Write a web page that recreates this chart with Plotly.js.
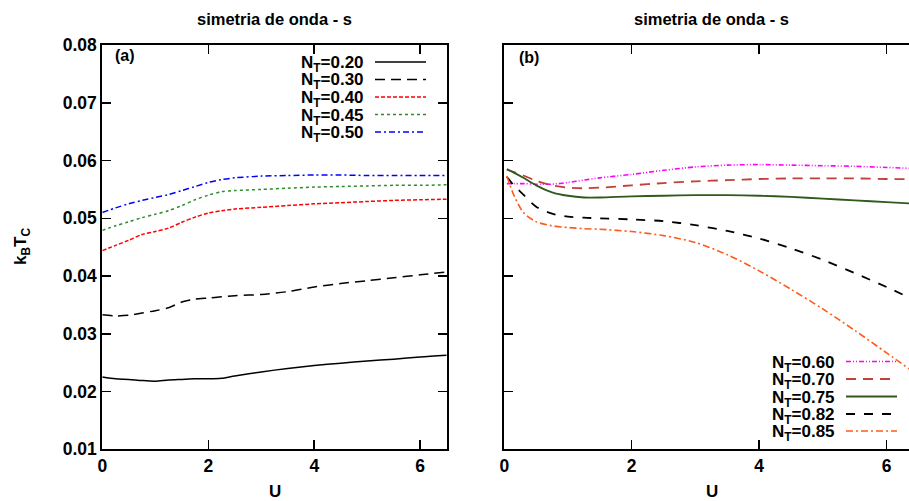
<!DOCTYPE html>
<html>
<head>
<meta charset="utf-8">
<script src="https://cdn.plot.ly/plotly-3.0.1.min.js"></script>
<style>
  html, body { margin: 0; padding: 0; background: #ffffff; overflow: hidden; }
  #chart { width: 909px; height: 501px; }
</style>
</head>
<body>
<div id="chart"></div>
<script>
// ---- panel (a): U grid and k_B T_C curves ----
const uA = [0, 0.25, 0.5, 0.75, 1.0, 1.25, 1.5, 1.75, 2.0, 2.25, 2.5, 3.0, 3.5, 4.0, 4.5, 5.0, 5.5, 6.0, 6.5];
const a020 = [0.0225, 0.0222, 0.0221, 0.0219, 0.0218, 0.0220, 0.0221, 0.0222, 0.0222, 0.0223, 0.0227, 0.0234, 0.0240, 0.0245, 0.0249, 0.0253, 0.0256, 0.0260, 0.0263];
const a030 = [0.0333, 0.0331, 0.0332, 0.0336, 0.0340, 0.0345, 0.0355, 0.0360, 0.0362, 0.0364, 0.0366, 0.0368, 0.0373, 0.0381, 0.0387, 0.0392, 0.0397, 0.0402, 0.0407];
const a040 = [0.0444, 0.0453, 0.0462, 0.0472, 0.0477, 0.0483, 0.0493, 0.0502, 0.0509, 0.0513, 0.0516, 0.0519, 0.0522, 0.0525, 0.0527, 0.0529, 0.0531, 0.0532, 0.0533];
const a045 = [0.0479, 0.0487, 0.0494, 0.0501, 0.0507, 0.0513, 0.0522, 0.0532, 0.0540, 0.0546, 0.0548, 0.0550, 0.0552, 0.0554, 0.0555, 0.0556, 0.0557, 0.0557, 0.0558];
const a050 = [0.0510, 0.0518, 0.0525, 0.0531, 0.0536, 0.0541, 0.0548, 0.0555, 0.0562, 0.0567, 0.0570, 0.0573, 0.0574, 0.0575, 0.0575, 0.0574, 0.0574, 0.0574, 0.0574];

// ---- panel (b) ----
const uB = [0.04, 0.15, 0.3, 0.5, 0.75, 1.0, 1.25, 1.5, 2.0, 2.5, 3.0, 3.5, 4.0, 4.5, 5.0, 5.5, 6.0, 6.5];
const b060 = [0.0560, 0.0560, 0.0560, 0.0559, 0.0559, 0.0562, 0.0566, 0.0570, 0.0576, 0.0583, 0.0589, 0.0592, 0.0593, 0.0592, 0.0591, 0.0590, 0.0588, 0.0586];
const b070 = [0.0584, 0.0580, 0.0574, 0.0565, 0.0557, 0.0553, 0.0552, 0.0553, 0.0557, 0.0561, 0.0564, 0.0566, 0.0568, 0.0569, 0.0569, 0.0569, 0.0568, 0.0568];
const b075 = [0.0585, 0.0579, 0.0570, 0.0557, 0.0545, 0.0539, 0.0536, 0.0536, 0.0538, 0.0539, 0.0540, 0.0540, 0.0539, 0.0537, 0.0534, 0.0531, 0.0528, 0.0525];
const b082 = [0.0572, 0.0557, 0.0541, 0.0520, 0.0508, 0.0503, 0.0501, 0.0500, 0.0498, 0.0495, 0.0488, 0.0478, 0.0465, 0.0448, 0.0428, 0.0405, 0.0381, 0.0355];
const b085 = [0.0573, 0.0540, 0.0510, 0.0494, 0.0487, 0.0484, 0.0482, 0.0481, 0.0477, 0.0470, 0.0458, 0.0437, 0.0409, 0.0377, 0.0343, 0.0306, 0.0267, 0.0228];

const labelsA = ['N<sub>T</sub>=0.20', 'N<sub>T</sub>=0.30', 'N<sub>T</sub>=0.40', 'N<sub>T</sub>=0.45', 'N<sub>T</sub>=0.50'];
const labelsB = ['N<sub>T</sub>=0.60', 'N<sub>T</sub>=0.70', 'N<sub>T</sub>=0.75', 'N<sub>T</sub>=0.82', 'N<sub>T</sub>=0.85'];
const xTicks = [0, 2, 4, 6];
const yTicks = [0.01, 0.02, 0.03, 0.04, 0.05, 0.06, 0.07, 0.08];
const panelTitle = 'simetria de onda - s';

// ---- styles ----
const stylesA = [
  { color: '#000000', dash: 'solid', width: 1.5 },
  { color: '#000000', dash: '10px,6px', width: 1.5 },
  { color: '#ff0000', dash: '4px,2px', width: 1.5 },
  { color: '#2e8b2e', dash: '3px,3px', width: 1.5 },
  { color: '#0000ff', dash: '6px,3px,2px,3px', width: 1.5 }
];
const stylesB = [
  { color: '#ff00ff', dash: '5px,2px,1px,2px,1px,2px', width: 1.6 },
  { color: '#c0403a', dash: '10px,7px', width: 1.8 },
  { color: '#2f5a1c', dash: 'solid', width: 1.8 },
  { color: '#000000', dash: '9px,9px', width: 1.8 },
  { color: '#ff5a1a', dash: '7px,3px,2px,3px', width: 1.6 }
];

const W = 909, H = 501;
const px = v => v / W;          // pixel column -> paper x
const py = v => 1 - v / H;      // pixel row -> paper y
const FONT = 'Liberation Sans, Arial, Helvetica, sans-serif';

const seriesA = [a020, a030, a040, a045, a050];
const seriesB = [b060, b070, b075, b082, b085];

const traces = [];
seriesA.forEach((ys, i) => traces.push({
  x: uA, y: ys, xaxis: 'x', yaxis: 'y', type: 'scatter', mode: 'lines',
  line: { color: stylesA[i].color, dash: stylesA[i].dash, width: stylesA[i].width, shape: 'spline', smoothing: 0.8 },
  name: labelsA[i], hoverinfo: 'x+y'
}));
seriesB.forEach((ys, i) => traces.push({
  x: uB, y: ys, xaxis: 'x2', yaxis: 'y2', type: 'scatter', mode: 'lines',
  line: { color: stylesB[i].color, dash: stylesB[i].dash, width: stylesB[i].width, shape: 'spline', smoothing: 0.8 },
  name: labelsB[i], hoverinfo: 'x+y'
}));

const tickFont = { family: FONT, size: 17.5, color: '#000', weight: 'bold' };
const axisCommon = {
  ticks: 'inside', ticklen: 9, tickwidth: 1.5, tickcolor: '#000',
  showline: true, linewidth: 2, linecolor: '#000',
  showgrid: false, zeroline: false, tickfont: tickFont, fixedrange: true
};
const yDomain = [py(449.3), py(45)];

const layout = {
  width: W, height: H,
  margin: { l: 0, r: 0, t: 0, b: 0, pad: 0 },
  paper_bgcolor: '#ffffff', plot_bgcolor: '#ffffff',
  showlegend: false,
  xaxis: Object.assign({}, axisCommon, {
    domain: [px(102.3), px(446.7)], range: [0, 6.5], anchor: 'y',
    tickvals: xTicks, mirror: 'ticks'
  }),
  yaxis: Object.assign({}, axisCommon, {
    domain: yDomain, range: [0.01, 0.08], anchor: 'x',
    tickvals: yTicks, tickformat: '.2f', mirror: 'ticks'
  }),
  xaxis2: Object.assign({}, axisCommon, {
    domain: [px(504.3), 1], range: [0, 6.353], anchor: 'y2',
    tickvals: xTicks, mirror: 'ticks'
  }),
  yaxis2: Object.assign({}, axisCommon, {
    domain: yDomain, range: [0.01, 0.08], anchor: 'x2',
    tickvals: yTicks, showticklabels: false, mirror: false
  }),
  annotations: [],
  shapes: []
};

const ann = (text, x, y, size, xanchor, extra) => Object.assign({
  text: text, x: x, y: y, xref: 'paper', yref: 'paper',
  xanchor: xanchor || 'center', yanchor: 'middle', showarrow: false,
  font: { family: FONT, size: size, color: '#000', weight: 'bold' }
}, extra || {});

// panel titles, axis titles and panel tags
layout.annotations.push(ann(panelTitle, px(274.5), py(19), 16.5));
layout.annotations.push(ann(panelTitle, px(711.5), py(19), 16.5));
layout.annotations.push(ann('U', px(275), py(491), 17));
layout.annotations.push(ann('U', px(711.7), py(491), 17));
layout.annotations.push(ann('k<sub>B</sub>T<sub>C</sub>', px(22), py(247), 17, 'center', { textangle: -90 }));
layout.annotations.push(ann('(a)', px(113), py(56), 16, 'left'));
layout.annotations.push(ann('(b)', px(516.5), py(57), 16, 'left'));

// key entries: label on the left, line sample on the right
const keyA = { textRight: 366, x0: 375, x1: 426, rows: [62, 79.5, 97, 114.5, 132] };
const keyB = { textRight: 836.7, x0: 846, x1: 897, rows: [361.5, 379, 396.5, 414, 431] };
function addKey(key, labels, styles) {
  labels.forEach((lab, i) => {
    layout.annotations.push(ann(lab, px(key.textRight), py(key.rows[i] + 2), 17, 'right'));
    layout.shapes.push({
      type: 'line', xref: 'paper', yref: 'paper',
      x0: px(key.x0), x1: px(key.x1), y0: py(key.rows[i]), y1: py(key.rows[i]),
      line: { color: styles[i].color, dash: styles[i].dash, width: styles[i].width }
    });
  });
}
addKey(keyA, labelsA, stylesA);
addKey(keyB, labelsB, stylesB);

Plotly.newPlot('chart', traces, layout, { staticPlot: true, displayModeBar: false });
</script>
</body>
</html>
